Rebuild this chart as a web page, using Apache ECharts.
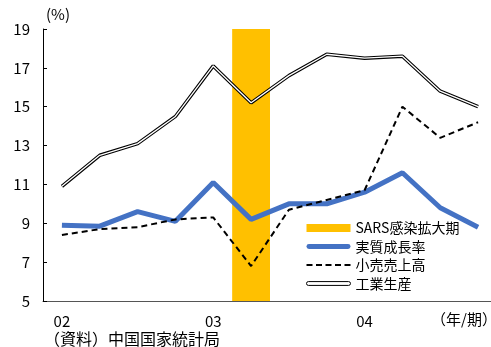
<!DOCTYPE html>
<html><head><meta charset="utf-8">
<script src="https://cdn.jsdelivr.net/npm/echarts@6/dist/echarts.min.js"></script>
<style>html,body{margin:0;padding:0;background:#fff}#c{width:491px;height:347px}</style>
</head><body><div id="c"></div>
<script>
var categories = ['02Q1','02Q2','02Q3','02Q4','03Q1','03Q2','03Q3','03Q4','04Q1','04Q2','04Q3','04Q4'];
var yearLabels = ['02','','','','03','','','','04','','',''];
var sarsValues = [null,null,null,null,null,19,null,null,null,null,null,null];
var realGrowth = [8.9,8.85,9.6,9.1,11.1,9.2,10.0,10.0,10.6,11.6,9.8,8.8];
var retailSales = [8.4,8.7,8.8,9.2,9.3,6.8,9.7,10.2,10.7,15.0,13.4,14.2];
var industrial = [10.9,12.5,13.1,14.5,17.1,15.2,16.6,17.7,17.5,17.6,15.8,15.0];
var yTicks = [5,7,9,11,13,15,17,19];

var font = '"Noto Sans CJK JP", sans-serif';
var chart = echarts.init(document.getElementById('c'));
chart.setOption({
  animation: false,
  grid: {left: 43, top: 29, width: 454, height: 272, outerBoundsMode: 'none', containLabel: false},
  legend: {
    left: 301, top: 216, orient: 'vertical', itemGap: 4.5, itemWidth: 44, itemHeight: 14,
    symbolKeepAspect: true,
    textStyle: {fontFamily: font, fontSize: 14, color: '#000'},
    data: [
      {name: 'SARS感染拡大期', icon: 'path://M0,0H44V8H0Z', itemStyle: {color: '#FFC000'}},
      {name: '実質成長率', icon: 'path://M2,0H42A2,2,0,0,1,42,5H2A2,2,0,0,1,2,0Z', itemStyle: {color: '#4472C4'}},
      {name: '小売売上高', icon: 'path://M0,0H6V2H0ZM9.5,0H15.5V2H9.5ZM19,0H25V2H19ZM28.5,0H34.5V2H28.5ZM38,0H44V2H38Z', itemStyle: {color: '#000'}},
      {name: '工業生産', icon: 'path://M1,0H43A2,2,0,0,1,43,4H1A2,2,0,0,1,1,0Z', itemStyle: {color: '#fff', borderColor: '#000', borderWidth: 1}}
    ]
  },
  xAxis: {
    type: 'category', data: categories, boundaryGap: true,
    axisLine: {lineStyle: {color: '#555', width: 1}},
    axisTick: {interval: 3, length: 5, lineStyle: {color: '#555'}},
    axisLabel: {interval: 3, margin: 13, fontFamily: font, fontSize: 15, color: '#000',
      formatter: function (v, i) { return yearLabels[i]; }},
    splitLine: {show: false}
  },
  yAxis: {
    type: 'value', min: 5, max: 19, interval: 2,
    axisLine: {show: true, lineStyle: {color: '#000'}},
    axisTick: {show: true, inside: true, length: 4, lineStyle: {color: '#000'}},
    axisLabel: {margin: 13, fontFamily: font, fontSize: 15, color: '#000',
      formatter: function (v) { return yTicks.indexOf(v) >= 0 ? String(v) : ''; }},
    splitLine: {show: false}
  },
  graphic: [
    {type: 'text', left: 46, top: 7, style: {text: '(%)', fontFamily: font, fontSize: 15, fill: '#000'}},
    {type: 'text', left: 431, top: 312, style: {text: '（年/期）', fontFamily: font, fontSize: 15, fill: '#000'}},
    {type: 'text', left: 44, top: 331, style: {text: '（資料）中国国家統計局', fontFamily: font, fontSize: 16, fill: '#000'}}
  ],
  series: [
    {name: 'SARS感染拡大期', type: 'bar', data: sarsValues, barWidth: '100%', itemStyle: {color: '#FFC000'}, z: 1},
    {name: '実質成長率', type: 'line', data: realGrowth, symbol: 'none', lineStyle: {color: '#4472C4', width: 5}, itemStyle: {color: '#4472C4'}, z: 3},
    {name: '小売売上高', type: 'line', data: retailSales, symbol: 'none', lineStyle: {color: '#000', width: 2, type: [6, 4]}, itemStyle: {color: '#000'}, z: 4},
    {name: '工業生産', type: 'line', data: industrial, symbol: 'none', lineStyle: {color: '#000', width: 3.5}, itemStyle: {color: '#000'}, z: 5},
    {name: '工業生産内', type: 'line', data: industrial, symbol: 'none', lineStyle: {color: '#fff', width: 1.3}, z: 6, silent: true}
  ]
});
</script></body></html>
